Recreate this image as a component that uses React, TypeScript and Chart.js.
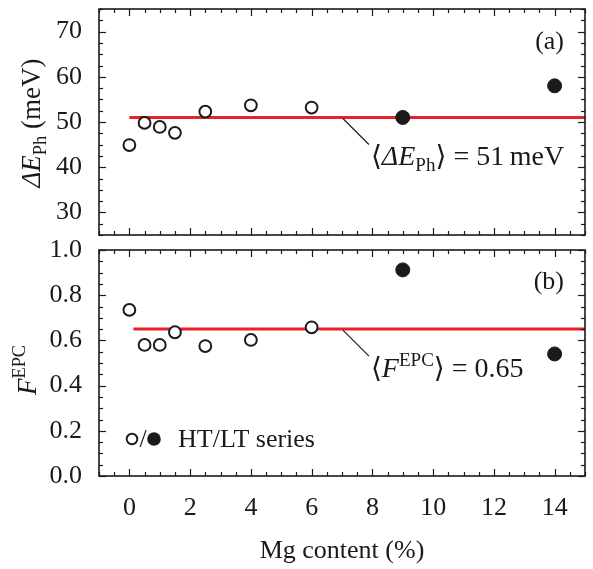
import React, { useEffect, useRef } from "react";
import { Chart, registerables } from "chart.js";
Chart.register(...registerables);

// ---- data ----
const htMg = [0, 0.5, 1, 1.5, 2.5, 4, 6];
const htDeltaE = [44.9, 49.8, 48.9, 47.6, 52.3, 53.7, 53.2];
const htF = [0.735, 0.58, 0.58, 0.636, 0.575, 0.602, 0.658];
const ltMg = [9, 14];
const ltDeltaE = [51.0, 58.0];
const ltF = [0.912, 0.54];
const meanDeltaE = 51;
const meanF = 0.65;
const meanLineXTop = [0, 15];
const meanLineXBottom = [0.13, 15];
const xTicks = [0, 2, 4, 6, 8, 10, 12, 14];
const topYTicks = [30, 40, 50, 60, 70];
const bottomYTicks = [0, 0.2, 0.4, 0.6, 0.8, 1.0];

// ---- style ----
const FAMILY = "'Liberation Serif', 'Times New Roman', 'DejaVu Serif', serif";
const INK = "#1a1a1a";
const RED = "#e8212b";
const FS = 26;
const FS_ANN = 28;

const fnt = (size: number, italic = false) =>
  `${italic ? "italic " : ""}${size}px ${FAMILY}`;

type Part = { t: string; it?: boolean; k?: number; dy?: number };

function measure(ctx: CanvasRenderingContext2D, parts: Part[], size: number) {
  let w = 0;
  for (const p of parts) {
    ctx.font = fnt(size * (p.k ?? 1), p.it);
    w += ctx.measureText(p.t).width;
  }
  return w;
}

function drawRich(
  ctx: CanvasRenderingContext2D,
  parts: Part[],
  x: number,
  y: number,
  size: number,
  align: "left" | "center" | "right"
) {
  const w = measure(ctx, parts, size);
  let cx = align === "center" ? x - w / 2 : align === "right" ? x - w : x;
  ctx.textBaseline = "alphabetic";
  ctx.textAlign = "left";
  ctx.fillStyle = INK;
  for (const p of parts) {
    ctx.font = fnt(size * (p.k ?? 1), p.it);
    ctx.fillText(p.t, cx, y + (p.dy ?? 0));
    cx += ctx.measureText(p.t).width;
  }
}

function frameTicks(chart: any, yMinor: number, yMajor: number[]) {
  const { ctx, chartArea: a, scales } = chart;
  const x = scales.x;
  const y = scales.y;
  ctx.save();
  ctx.strokeStyle = INK;
  ctx.lineWidth = 1.2;
  const seg = (x1: number, y1: number, x2: number, y2: number) => {
    ctx.beginPath();
    ctx.moveTo(x1, y1);
    ctx.lineTo(x2, y2);
    ctx.stroke();
  };
  const nx = Math.round((x.max - x.min) / 0.5);
  for (let i = 0; i <= nx; i++) {
    const v = x.min + i * 0.5;
    const px = Math.round(x.getPixelForValue(v)) + 0.5;
    const L = xTicks.some((t) => Math.abs(t - v) < 1e-6) ? 7 : 4;
    seg(px, a.bottom, px, a.bottom - L);
    seg(px, a.top, px, a.top + L);
  }
  const ny = Math.round((y.max - y.min) / yMinor);
  for (let i = 0; i <= ny; i++) {
    const v = y.min + i * yMinor;
    const py = Math.round(y.getPixelForValue(v)) + 0.5;
    const L = yMajor.some((t) => Math.abs(t - v) < 1e-6) ? 7 : 4;
    seg(a.left, py, a.left + L, py);
    seg(a.right, py, a.right - L, py);
  }
  ctx.lineWidth = 1.6;
  ctx.strokeRect(a.left, a.top, a.right - a.left, a.bottom - a.top);
  ctx.restore();
}

const zeroPad = (s: any) => {
  s.paddingTop = 0;
  s.paddingBottom = 0;
  s.paddingLeft = 0;
  s.paddingRight = 0;
};

function xScale(showLabels: boolean) {
  return {
    type: "linear" as const,
    min: -1,
    max: 15,
    display: showLabels,
    afterBuildTicks: (s: any) => {
      s.ticks = xTicks.map((value) => ({ value }));
    },
    ticks: {
      font: { family: FAMILY, size: FS },
      color: INK,
      padding: 17,
      maxRotation: 0,
      autoSkip: false,
      callback: (v: any) => String(v),
    },
    grid: { display: false, drawTicks: false },
    border: { display: false },
    title: {
      display: showLabels,
      text: "Mg content (%)",
      font: { family: FAMILY, size: FS },
      color: INK,
      padding: { top: 0, bottom: 2 },
    },
    afterFit: (s: any) => {
      s.height = showLabels ? 93 : 0;
      zeroPad(s);
    },
  };
}

function yScale(min: number, max: number, ticks: number[], fmt: (v: number) => string) {
  return {
    type: "linear" as const,
    min,
    max,
    afterBuildTicks: (s: any) => {
      s.ticks = ticks.map((value) => ({ value }));
    },
    ticks: {
      font: { family: FAMILY, size: FS },
      color: INK,
      padding: 17,
      callback: (v: any) => fmt(Number(v)),
    },
    grid: { display: false, drawTicks: false },
    border: { display: false },
    afterFit: (s: any) => {
      s.width = 99;
      zeroPad(s);
    },
  };
}

function datasets(ht: number[], lt: number[], mean: number, lineX: number[]) {
  return [
    {
      label: "HT",
      data: htMg.map((x, i) => ({ x, y: ht[i] })),
      pointRadius: 5.9,
      pointBorderWidth: 2,
      pointBorderColor: INK,
      pointBackgroundColor: "#ffffff",
      showLine: false,
      order: 0,
    },
    {
      label: "LT",
      data: ltMg.map((x, i) => ({ x, y: lt[i] })),
      pointRadius: 7,
      pointBorderWidth: 1,
      pointBorderColor: INK,
      pointBackgroundColor: INK,
      showLine: false,
      order: 0,
    },
    {
      label: "mean",
      data: lineX.map((x) => ({ x, y: mean })),
      borderColor: RED,
      borderWidth: 3,
      pointRadius: 0,
      showLine: true,
      order: 1,
    },
  ];
}

function annotate(chart: any, mean: number, parts: Part[]) {
  const { ctx, scales } = chart;
  const x0 = scales.x.getPixelForValue(7.03);
  const y0 = scales.y.getPixelForValue(mean);
  ctx.save();
  ctx.strokeStyle = INK;
  ctx.lineWidth = 1.2;
  ctx.beginPath();
  ctx.moveTo(x0, y0 + 1);
  ctx.lineTo(x0 + 26, y0 + 27);
  ctx.stroke();
  drawRich(ctx, parts, x0 + 28, y0 + 48, FS_ANN, "left");
  ctx.restore();
}

export default function App() {
  const topRef = useRef<HTMLCanvasElement>(null);
  const botRef = useRef<HTMLCanvasElement>(null);

  useEffect(() => {
    const topPlugin = {
      id: "topDecor",
      afterDatasetsDraw: (chart: any) => frameTicks(chart, 2.5, topYTicks),
      afterDraw: (chart: any) => {
        const { ctx, chartArea: a } = chart;
        ctx.save();
        ctx.translate(40, (a.top + a.bottom) / 2 + 1);
        ctx.rotate(-Math.PI / 2);
        drawRich(
          ctx,
          [
            { t: "Δ", it: true },
            { t: "E", it: true },
            { t: "Ph", k: 0.68, dy: 6 },
            { t: " (meV)" },
          ],
          0,
          0,
          27,
          "center"
        );
        ctx.restore();
        ctx.save();
        drawRich(ctx, [{ t: "(a)" }], a.right - 21, a.top + 40, FS, "right");
        ctx.restore();
        annotate(chart, meanDeltaE, [
          { t: "⟨" },
          { t: "Δ", it: true },
          { t: "E", it: true },
          { t: "Ph", k: 0.68, dy: 6 },
          { t: "⟩" },
          { t: ` = ${meanDeltaE}\u2009meV` },
        ]);
      },
    };

    const botPlugin = {
      id: "botDecor",
      afterDatasetsDraw: (chart: any) => frameTicks(chart, 0.05, bottomYTicks),
      afterDraw: (chart: any) => {
        const { ctx, chartArea: a } = chart;
        ctx.save();
        ctx.translate(36, (a.top + a.bottom) / 2 + 7);
        ctx.rotate(-Math.PI / 2);
        drawRich(
          ctx,
          [
            { t: "F", it: true },
            { t: "EPC", k: 0.68, dy: -11 },
          ],
          0,
          0,
          27,
          "center"
        );
        ctx.restore();
        ctx.save();
        drawRich(ctx, [{ t: "(b)" }], a.right - 21, a.top + 39, FS, "right");
        const ly = a.bottom - 37;
        ctx.strokeStyle = INK;
        ctx.lineWidth = 1.9;
        ctx.beginPath();
        ctx.arc(a.left + 33, ly, 5.3, 0, Math.PI * 2);
        ctx.stroke();
        ctx.fillStyle = INK;
        ctx.beginPath();
        ctx.arc(a.left + 55, ly, 6.8, 0, Math.PI * 2);
        ctx.fill();
        ctx.font = fnt(FS);
        ctx.textBaseline = "middle";
        ctx.textAlign = "center";
        ctx.fillText("/", a.left + 44, ly + 1);
        ctx.textAlign = "left";
        ctx.fillText("HT/LT series", a.left + 79, ly + 1);
        ctx.restore();
        annotate(chart, meanF, [
          { t: "⟨" },
          { t: "F", it: true },
          { t: "EPC", k: 0.68, dy: -11 },
          { t: "⟩" },
          { t: ` = ${meanF.toFixed(2)}` },
        ]);
      },
    };

    const c1 = new Chart(topRef.current as HTMLCanvasElement, {
      type: "scatter",
      data: { datasets: datasets(htDeltaE, ltDeltaE, meanDeltaE, meanLineXTop) as any },
      options: {
        animation: false,
        responsive: false,
        devicePixelRatio: 1,
        events: [],
        layout: { padding: { left: 0, right: 5, top: 9, bottom: 10 } },
        plugins: { legend: { display: false }, tooltip: { enabled: false } },
        scales: {
          x: xScale(false) as any,
          y: yScale(25, 75, topYTicks, (v) => String(v)) as any,
        },
      },
      plugins: [topPlugin],
    });

    const c2 = new Chart(botRef.current as HTMLCanvasElement, {
      type: "scatter",
      data: { datasets: datasets(htF, ltF, meanF, meanLineXBottom) as any },
      options: {
        animation: false,
        responsive: false,
        devicePixelRatio: 1,
        events: [],
        layout: { padding: { left: 0, right: 5, top: 10, bottom: 0 } },
        plugins: { legend: { display: false }, tooltip: { enabled: false } },
        scales: {
          x: xScale(true) as any,
          y: yScale(0, 1, bottomYTicks, (v) => v.toFixed(1)) as any,
        },
      },
      plugins: [botPlugin],
    });

    return () => {
      c1.destroy();
      c2.destroy();
    };
  }, []);

  return (
    <div
      style={{
        position: "absolute",
        left: 0,
        top: 0,
        width: 593,
        height: 569,
        background: "#ffffff",
      }}
    >
      <canvas
        ref={topRef}
        width={593}
        height={245}
        style={{ position: "absolute", left: 0, top: 0, width: 593, height: 245 }}
      />
      <canvas
        ref={botRef}
        width={593}
        height={329}
        style={{ position: "absolute", left: 0, top: 240, width: 593, height: 329 }}
      />
    </div>
  );
}
